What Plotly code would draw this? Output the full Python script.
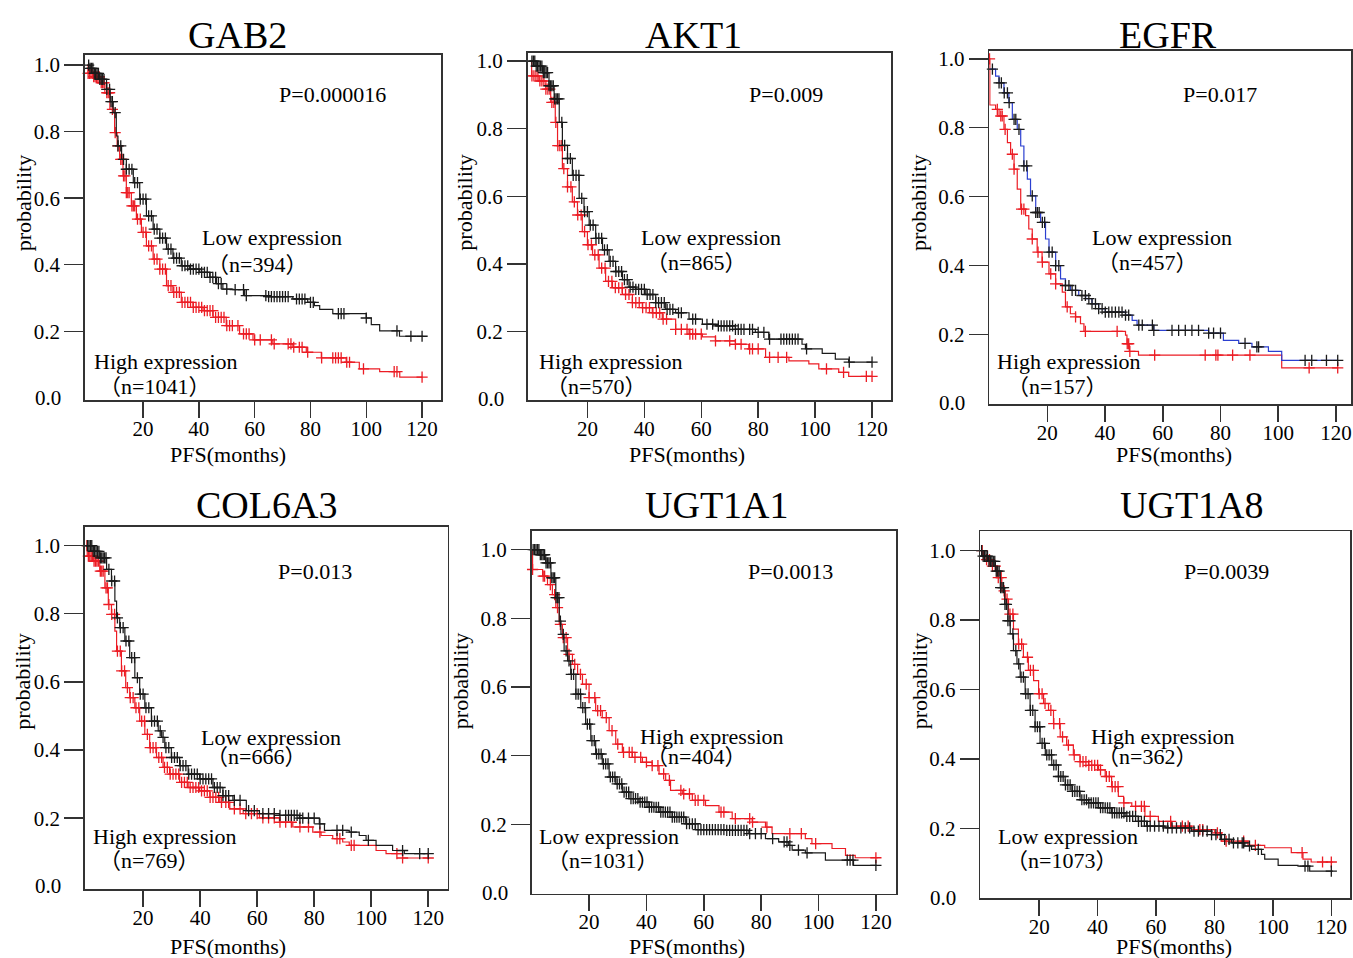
import numpy as np
import plotly.graph_objects as go

W, H = 1353, 958
FONT = "Liberation Serif, Times New Roman, Noto Sans CJK SC, serif"
BLACK = "#1a1a1a"
RED = "#ec1c24"
BLUE = "#2b3fd0"

genes = ["GAB2", "AKT1", "EGFR", "COL6A3", "UGT1A1", "UGT1A8"]
p_values = ["P=0.000016", "P=0.009", "P=0.017", "P=0.013", "P=0.0013", "P=0.0039"]
n_low = [394, 865, 457, 666, 1031, 1073]
n_high = [1041, 570, 157, 769, 404, 362]
x_ticks = [20, 40, 60, 80, 100, 120]
y_ticks = [0.2, 0.4, 0.6, 0.8, 1.0]
y_ticktext = ["0.2", "0.4", "0.6", "0.8", "1.0"]

# ---------------- GAB2 ----------------
gab2_low_t = [0, 1, 2.5, 4.5, 6.9, 8.2, 9.3, 10.4, 11, 12.3, 14, 16.5, 18.8, 21.2, 23.6, 26, 28.4, 30.7, 33.7, 36.7, 40.3, 43.9, 46.3, 48.6, 52.2, 56.4, 64.2, 73.7, 79, 81.4, 83.3, 88, 100, 101.8, 104.8, 111.9, 120.4]
gab2_low_s = [1.0, 0.99, 0.975, 0.957, 0.927, 0.89, 0.857, 0.787, 0.757, 0.717, 0.687, 0.647, 0.597, 0.547, 0.507, 0.48, 0.447, 0.42, 0.397, 0.387, 0.377, 0.362, 0.343, 0.327, 0.325, 0.307, 0.304, 0.297, 0.287, 0.277, 0.266, 0.253, 0.24, 0.22, 0.201, 0.185, 0.185]
gab2_low_c = [0.5, 1, 1.5, 2, 2.5, 3, 3.5, 4, 4.5, 5, 5.5, 6, 7, 8, 8.5, 9, 10, 11, 12, 13, 14, 15, 16, 17, 18, 19, 20, 21, 22, 23, 24, 25, 26, 27, 28, 29, 30, 31, 32, 33, 34, 35, 36, 37, 38, 39, 40, 41, 42, 43, 44, 45, 46, 47, 48, 50, 53, 56, 57, 64, 65, 66, 67, 68, 69, 70, 71, 72, 75, 76, 77, 78, 80, 81, 90, 91, 92, 100, 111, 116, 120]
gab2_high_t = [0, 0.3, 2.1, 4.5, 6.3, 8.1, 9.8, 10.7, 11.6, 12.8, 14, 15.8, 17.6, 19.4, 21.2, 23.6, 26, 28.4, 30.7, 33.7, 37.9, 41.5, 45.1, 49.8, 54.6, 59.4, 66.5, 73.7, 78.5, 83.9, 92.8, 97.5, 104.8, 112, 120.1]
gab2_high_s = [1.0, 0.975, 0.965, 0.947, 0.917, 0.867, 0.797, 0.757, 0.717, 0.667, 0.617, 0.577, 0.537, 0.497, 0.457, 0.417, 0.387, 0.337, 0.317, 0.287, 0.272, 0.262, 0.242, 0.217, 0.192, 0.174, 0.162, 0.152, 0.137, 0.12, 0.107, 0.087, 0.079, 0.062, 0.062]
gab2_high_c = [0.3, 0.8, 1.3, 1.8, 2.3, 2.8, 3.3, 3.8, 4.3, 5, 5.5, 6, 7, 7.5, 8, 9, 10, 11, 12, 12.5, 13, 13.5, 14, 14.5, 15, 16, 16.5, 17, 18, 19, 20, 21, 22, 23, 24, 25, 26, 27, 28, 29, 30, 31, 32, 33, 34, 35, 36, 37, 38, 39, 40, 41, 42, 43, 44, 45, 46, 47, 48, 49, 50, 51, 52, 54, 56, 57, 58, 60, 62, 66, 67, 72, 73, 74, 76, 77, 79, 84, 88, 89, 90, 91, 93, 94, 99, 110, 111, 120]

# ---------------- AKT1 ----------------
akt1_low_t = [0, 1.9, 4.2, 6.5, 8.3, 10.1, 11.2, 13, 14.7, 17.1, 18.8, 20.6, 22.9, 25.3, 27.6, 29.9, 32.3, 34.6, 37, 40.5, 44, 47.5, 51, 55.7, 60.4, 65, 72, 79, 83.7, 95.4, 96.6, 102.5, 107.1, 111.8, 120]
akt1_low_s = [1.0, 0.985, 0.966, 0.927, 0.888, 0.819, 0.751, 0.712, 0.662, 0.594, 0.555, 0.515, 0.476, 0.442, 0.408, 0.378, 0.354, 0.332, 0.325, 0.31, 0.286, 0.266, 0.256, 0.237, 0.222, 0.217, 0.207, 0.198, 0.178, 0.163, 0.149, 0.136, 0.119, 0.11, 0.11]
akt1_low_c = [0.5, 1, 1.5, 2, 2.5, 3, 3.5, 4, 4.5, 5, 5.5, 6, 6.5, 7, 7.5, 8, 8.5, 9, 9.5, 10, 11, 12, 13, 14, 15, 16, 17, 18, 19, 20, 21, 22, 23, 24, 25, 26, 27, 28, 29, 30, 31, 32, 33, 34, 35, 36, 37, 38, 39, 40, 41, 42, 43, 44, 45, 46, 47, 48, 49, 50, 52, 53, 57, 58, 62, 64, 66, 67, 68, 69, 70, 71, 72, 73, 74, 75, 77, 78, 80, 82, 84, 88, 89, 90, 91, 92, 93, 94, 97, 112, 120]
akt1_high_t = [0, 0.4, 3, 5.4, 7.1, 8.7, 9.5, 11.2, 13, 14.7, 16.5, 18.2, 20, 21.8, 24.1, 26.4, 28.8, 32.3, 35.8, 39.3, 42.8, 46.3, 51, 55.7, 60.4, 65, 72, 76.7, 82.6, 90.8, 97.8, 101.3, 108.3, 111.8, 120]
akt1_high_s = [1.0, 0.956, 0.941, 0.917, 0.878, 0.819, 0.75, 0.682, 0.628, 0.584, 0.545, 0.496, 0.457, 0.427, 0.388, 0.349, 0.33, 0.31, 0.286, 0.271, 0.256, 0.237, 0.207, 0.193, 0.185, 0.173, 0.163, 0.149, 0.124, 0.114, 0.105, 0.09, 0.08, 0.068, 0.068]
akt1_high_c = [0.5, 1.2, 1.9, 2.6, 3.3, 4, 4.7, 5.4, 6.1, 6.8, 7.5, 8.2, 8.9, 9.6, 10.3, 11, 11.7, 13, 14.2, 15.4, 16.6, 17.8, 19, 20.2, 21.4, 22.6, 23.8, 25, 26.2, 27.4, 28.6, 29.8, 31, 32.2, 33.4, 34.6, 35.8, 37, 38.2, 39.4, 40.6, 41.8, 43, 44.2, 45.4, 46.6, 47.8, 51, 53, 55, 56, 57, 58, 60, 65, 70, 72, 74, 77, 78, 80, 84, 87, 90, 104, 110, 118, 120]

# ---------------- EGFR ----------------
egfr_low_t = [0, 2.1, 3.3, 5, 6.7, 7.9, 9.6, 10.8, 11.9, 13.1, 14.2, 16, 17.7, 19.4, 20.6, 22.9, 24.6, 26.3, 28, 30.9, 33.3, 35.5, 37.8, 40.1, 47.1, 49.4, 51.1, 56.9, 75.9, 81, 86.3, 90.9, 96.6, 101.2, 120.6]
egfr_low_s = [0.97, 0.95, 0.93, 0.901, 0.873, 0.824, 0.795, 0.747, 0.689, 0.651, 0.602, 0.554, 0.525, 0.477, 0.439, 0.4, 0.361, 0.342, 0.328, 0.313, 0.304, 0.289, 0.275, 0.265, 0.256, 0.241, 0.227, 0.212, 0.204, 0.183, 0.174, 0.164, 0.151, 0.125, 0.125]
egfr_low_c = [1.0, 3.3, 4.1, 5.1, 6.2, 6.8, 8.5, 9.1, 10.2, 11.9, 12.9, 14.8, 16, 16.6, 17.2, 18.3, 19.1, 20.6, 21.7, 22.9, 24, 26.3, 27.5, 28.6, 29.8, 32, 33.2, 34.4, 35.5, 36.7, 37.8, 39, 40.1, 41.3, 42.4, 43.6, 44.8, 45.9, 47.1, 48.2, 51.7, 52.9, 56.4, 56.9, 63.2, 65.5, 67.8, 70.1, 72.4, 75.9, 77.6, 80, 88.5, 92.6, 93.2, 109.3, 111.6, 116.7, 120.6]
egfr_high_t = [0, 0.1, 2.1, 3.3, 5, 6.2, 7.3, 8.5, 9.6, 10.8, 12.5, 13.6, 14.8, 16.5, 18.2, 20.6, 22.9, 25.2, 26.3, 28, 29.8, 31.5, 32.7, 47.1, 47.6, 48.4, 51.6, 101.2, 120.6]
egfr_high_s = [1.0, 0.866, 0.853, 0.834, 0.795, 0.757, 0.723, 0.68, 0.622, 0.564, 0.545, 0.506, 0.477, 0.439, 0.41, 0.376, 0.347, 0.323, 0.28, 0.26, 0.251, 0.231, 0.209, 0.198, 0.173, 0.151, 0.14, 0.103, 0.103]
egfr_high_c = [0, 2.7, 3.9, 4.4, 5.4, 7.9, 8.5, 11.1, 11.9, 14.8, 16.8, 18.3, 21.2, 22.9, 26.9, 29.8, 33.2, 44.2, 47.7, 48.2, 48.6, 57.2, 74.7, 78.4, 79.1, 84.2, 90.2, 110.7, 120.6]

# ---------------- COL6A3 ----------------
col6a3_low_t = [0, 2.5, 4.8, 7.2, 8.9, 10.1, 10.7, 11.8, 13.6, 15.3, 17.1, 18.8, 20.6, 22.9, 25.3, 26.5, 27.6, 29.9, 32.8, 35.8, 39.8, 44.5, 48, 51.5, 56.2, 60.8, 67.8, 74.8, 81.8, 83.6, 92.3, 95.8, 98.2, 101.7, 107.5, 111.6, 120.3]
col6a3_low_s = [1.0, 0.983, 0.964, 0.93, 0.896, 0.837, 0.788, 0.759, 0.72, 0.671, 0.612, 0.564, 0.524, 0.485, 0.456, 0.437, 0.407, 0.378, 0.354, 0.329, 0.315, 0.29, 0.266, 0.252, 0.222, 0.213, 0.208, 0.2, 0.183, 0.164, 0.159, 0.149, 0.135, 0.12, 0.105, 0.096, 0.096]
col6a3_low_c = [0.5, 1, 1.5, 2, 2.5, 3, 3.5, 4, 4.5, 5, 5.5, 6, 6.5, 7, 8, 9, 10, 11, 12, 13, 14, 15, 16, 17, 18, 19, 20, 21, 22, 23, 24, 25, 26, 27, 28, 29, 30, 31, 32, 33, 34, 35, 36, 37, 38, 39, 40, 41, 42, 43, 44, 45, 46, 47, 48, 49, 50, 52, 54, 57, 59, 62, 64, 66, 68, 70, 71, 72, 73, 74, 75, 76, 78, 80, 82, 88, 90, 93, 99, 111, 117, 120]
col6a3_high_t = [0, 0.4, 2.5, 4.8, 6.6, 7.8, 8.9, 10.1, 10.7, 12.4, 13.9, 15.3, 17.1, 18.8, 20.6, 22.3, 24.7, 27, 29.3, 32.8, 35.8, 39.8, 43.4, 46.9, 50.4, 55.1, 60.8, 67.8, 72.5, 79.5, 82.4, 86.5, 90, 92.3, 101.7, 105.2, 111, 120.3]
col6a3_high_s = [1.0, 0.969, 0.954, 0.925, 0.876, 0.827, 0.798, 0.749, 0.69, 0.632, 0.583, 0.554, 0.524, 0.485, 0.446, 0.407, 0.378, 0.349, 0.329, 0.305, 0.29, 0.28, 0.261, 0.246, 0.227, 0.213, 0.201, 0.188, 0.174, 0.159, 0.149, 0.14, 0.13, 0.12, 0.105, 0.096, 0.083, 0.083]
col6a3_high_c = [0.3, 0.8, 1.3, 1.8, 2.3, 2.8, 3.3, 3.8, 4.3, 5, 5.5, 6, 7, 7.5, 8, 9, 10, 11, 12, 12.5, 13.5, 14.5, 15.5, 16.5, 17.5, 18.5, 19.5, 20.5, 21.5, 22.5, 23.5, 24.5, 25.5, 26.5, 27.5, 28.5, 29.5, 30.5, 31.5, 32.5, 33.5, 34.5, 35.5, 36.5, 37.5, 38.5, 39.5, 40.5, 41.5, 42.5, 43.5, 44.5, 45.5, 46.5, 47.5, 49, 50, 52, 54, 56, 58, 60, 62, 64, 66, 68, 70, 72, 75, 78, 82, 88, 89, 93, 94, 109, 111, 120]

# ---------------- UGT1A1 ----------------
ugt1a1_low_t = [0, 2.6, 4.9, 6.7, 8.4, 9.6, 10.2, 11.3, 12.5, 13.6, 15.4, 17.1, 18.8, 20.6, 22.3, 24.6, 27, 29.3, 31.6, 33.9, 37.4, 40.9, 44.4, 49, 53.7, 57.1, 67.6, 75.7, 81.5, 86.1, 89.6, 90.8, 95.4, 102.4, 112.2, 120.4]
ugt1a1_low_s = [1.0, 0.985, 0.961, 0.918, 0.86, 0.792, 0.753, 0.705, 0.676, 0.637, 0.579, 0.54, 0.492, 0.444, 0.405, 0.376, 0.338, 0.318, 0.294, 0.275, 0.265, 0.25, 0.236, 0.221, 0.202, 0.185, 0.183, 0.173, 0.159, 0.149, 0.139, 0.125, 0.117, 0.096, 0.081, 0.081]
ugt1a1_low_c = [0.5, 1, 1.5, 2, 2.5, 3, 3.5, 4, 4.5, 5, 5.5, 6, 6.5, 7, 7.5, 8, 8.5, 9, 9.5, 10, 11, 12, 13, 13.8, 14.6, 15.4, 16.2, 17, 17.8, 18.6, 19.4, 20.2, 21, 21.8, 22.6, 23.4, 24.2, 25, 25.8, 26.6, 27.4, 28.2, 29, 29.8, 30.6, 31.4, 32.2, 33, 33.8, 34.6, 35.4, 36.2, 37, 37.8, 38.6, 39.4, 40.2, 41, 41.8, 42.6, 43.4, 44.2, 45, 45.8, 46.6, 47.4, 48.2, 49, 49.8, 50.6, 51.4, 52.2, 53, 54, 55, 56, 57, 58, 59, 60, 61, 62, 63, 64, 65, 66, 67, 68, 69, 70, 71, 72, 73, 74, 75, 76, 78, 80, 84, 88, 89, 90, 93, 96, 110, 111, 112, 120]
ugt1a1_high_t = [0, 0.3, 3.8, 5.5, 7.2, 8.4, 9.6, 10.7, 12.5, 14.2, 16, 17.7, 20, 22.3, 24.6, 27, 29.3, 31.6, 35.1, 38.6, 42, 44.4, 46.7, 48.4, 52.5, 56, 60.6, 65.3, 69.9, 76.9, 81.5, 83.8, 95.4, 97.7, 104.7, 109.4, 112.8, 120.7]
ugt1a1_high_s = [1.0, 0.942, 0.923, 0.898, 0.869, 0.831, 0.782, 0.744, 0.695, 0.666, 0.637, 0.608, 0.569, 0.531, 0.511, 0.473, 0.434, 0.41, 0.395, 0.381, 0.371, 0.347, 0.328, 0.299, 0.289, 0.27, 0.255, 0.236, 0.217, 0.207, 0.192, 0.173, 0.159, 0.144, 0.13, 0.11, 0.103, 0.103]
ugt1a1_high_c = [0.3, 4, 4.5, 6.5, 8, 9, 10, 11, 12, 13, 15, 17, 19, 20, 22, 23, 24, 26, 28, 30, 32, 34, 35, 36, 38, 40, 42, 44, 46, 48, 52, 53, 55, 57, 58, 60, 66, 67, 71, 76, 77, 82, 90, 94, 99, 120]

# ---------------- UGT1A8 ----------------
ugt1a8_low_t = [0, 0.4, 2.7, 5, 6.7, 8.2, 9.3, 10.1, 11.2, 12.4, 13.5, 15.2, 16.9, 18.6, 20.3, 22.1, 24.3, 26.6, 28.9, 31.2, 34, 36.9, 40.3, 44.8, 49.4, 53.9, 56.8, 63.1, 72.1, 79, 82.4, 85.9, 90.4, 92.7, 96.1, 97.2, 101.8, 108.6, 112.6, 120.5]
ugt1a8_low_s = [1.0, 0.984, 0.969, 0.941, 0.893, 0.845, 0.798, 0.76, 0.712, 0.674, 0.636, 0.588, 0.54, 0.493, 0.445, 0.412, 0.383, 0.35, 0.326, 0.307, 0.283, 0.274, 0.26, 0.245, 0.235, 0.221, 0.207, 0.202, 0.193, 0.183, 0.169, 0.159, 0.15, 0.14, 0.126, 0.112, 0.094, 0.092, 0.078, 0.078]
ugt1a8_low_c = [0.3, 0.8, 1.3, 1.8, 2.3, 2.8, 3.3, 3.8, 4.3, 4.8, 5.3, 5.8, 6.3, 6.8, 7.3, 7.8, 8.3, 8.8, 9.3, 10, 11, 12, 13, 13.8, 14.6, 15.4, 16.2, 17, 17.8, 18.6, 19.4, 20.2, 21, 21.8, 22.6, 23.4, 24.2, 25, 25.8, 26.6, 27.4, 28.2, 29, 29.8, 30.6, 31.4, 32.2, 33, 33.8, 34.6, 35.4, 36.2, 37, 37.8, 38.6, 39.4, 40.2, 41, 41.8, 42.6, 43.4, 44.2, 45, 45.8, 46.6, 47.4, 48.2, 49, 50, 51, 52, 53, 54, 55, 56, 57, 58, 59.5, 61, 62.5, 64, 65.5, 67, 68.5, 70, 71.5, 73, 74.5, 76, 77.5, 79, 80.5, 82, 83.5, 85, 86.5, 88, 89.5, 90, 92, 95, 111, 112, 120]
ugt1a8_high_t = [0, 1, 3.3, 5.5, 7.2, 8.4, 9.5, 11.2, 12.9, 14.6, 16.3, 18.1, 19.8, 21.5, 23.2, 24.9, 27.2, 29.4, 31.7, 34, 36.9, 40.3, 42.6, 44.8, 47.1, 48.9, 51.7, 56.2, 60.8, 65.3, 72.1, 80.1, 82.4, 91.5, 97.2, 106.3, 110.3, 113.1, 120.5]
ugt1a8_high_s = [1.0, 0.974, 0.955, 0.922, 0.884, 0.86, 0.817, 0.774, 0.731, 0.693, 0.655, 0.626, 0.588, 0.56, 0.54, 0.502, 0.464, 0.44, 0.412, 0.393, 0.382, 0.369, 0.35, 0.321, 0.293, 0.274, 0.264, 0.235, 0.221, 0.207, 0.197, 0.188, 0.164, 0.152, 0.145, 0.131, 0.112, 0.104, 0.104]
ugt1a8_high_c = [0.5, 2, 3, 4, 5, 6, 7, 8, 9, 10, 11, 13, 14, 16, 17, 18, 20, 21, 22, 24, 25, 27, 28, 30, 32, 34, 35, 36, 37, 38, 39, 40, 41, 43, 44, 45, 46, 47, 49, 53, 55, 56, 58, 65, 69, 71, 75, 76, 81, 84, 90, 94, 110, 117, 120]

# ---------------- layout description (pixel boxes) ----------------
panels = [
    dict(box=(85, 51.7, 441.7, 398.3), xr=(-0.86, 126.8), yr=(-0.0067, 1.0318),
         low=(gab2_low_t, gab2_low_s, gab2_low_c), high=(gab2_high_t, gab2_high_s, gab2_high_c),
         low_line=BLACK, top_label="low",
         title=(238, 32), p=(333, 92), lab1=(272, 235), n1=(257, 262), lab2=(166, 360), n2=(155, 385),
         ylab=(23, 200), xlab=(228, 453)),
    dict(box=(528.3, 50, 892.7, 398.3), xr=(-1.05, 126.8), yr=(-0.002, 1.0243),
         low=(akt1_low_t, akt1_low_s, akt1_low_c), high=(akt1_high_t, akt1_high_s, akt1_high_c),
         low_line=BLACK, top_label="low",
         title=(695, 32), p=(786.7, 92), lab1=(711.7, 235), n1=(696.7, 260.7), lab2=(611.7, 360), n2=(596.7, 385),
         ylab=(465, 200), xlab=(688, 453)),
    dict(box=(990.7, 47.7, 1353, 402.3), xr=(-0.1, 125.2), yr=(-0.002, 1.024),
         low=(egfr_low_t, egfr_low_s, egfr_low_c), high=(egfr_high_t, egfr_high_s, egfr_high_c),
         low_line=BLUE, top_label="low",
         title=(1170, 32), p=(1221.7, 92), lab1=(1163.3, 235), n1=(1148.3, 260.7), lab2=(1070.7, 360), n2=(1058.3, 385),
         ylab=(920, 200), xlab=(1176, 453)),
    dict(box=(85, 525.7, 448.3, 889), xr=(-0.42, 126.8), yr=(-0.0086, 1.0544),
         low=(col6a3_low_t, col6a3_low_s, col6a3_low_c), high=(col6a3_high_t, col6a3_high_s, col6a3_high_c),
         low_line=BLACK, top_label="low",
         title=(266.7, 503.3), p=(315, 570), lab1=(271.7, 736.7), n1=(256.7, 756), lab2=(165.7, 836), n2=(149, 860),
         ylab=(23, 680), xlab=(228, 946.7)),
    dict(box=(532.3, 529.3, 897.3, 893.3), xr=(-0.07, 127.0), yr=(-0.001, 1.0551),
         low=(ugt1a1_low_t, ugt1a1_low_s, ugt1a1_low_c), high=(ugt1a1_high_t, ugt1a1_high_s, ugt1a1_high_c),
         low_line=BLACK, top_label="high",
         title=(718.3, 503.3), p=(791.7, 570), lab1=(713.3, 736), n1=(696.7, 756), lab2=(610, 836), n2=(603.3, 860),
         ylab=(462, 680), xlab=(688.3, 946.7)),
    dict(box=(981.7, 530, 1352.3, 898.3), xr=(-0.17, 126.5), yr=(-0.001, 1.0552),
         low=(ugt1a8_low_t, ugt1a8_low_s, ugt1a8_low_c), high=(ugt1a8_high_t, ugt1a8_high_s, ugt1a8_high_c),
         low_line=BLACK, top_label="high",
         title=(1193.3, 503.3), p=(1228.3, 570), lab1=(1165, 736), n1=(1148.3, 756), lab2=(1070, 836), n2=(1063.3, 860),
         ylab=(921.7, 680), xlab=(1176, 946.7)),
]


def px(x, y):
    return x / W, 1 - y / H


def step_at(t, s, c):
    t = np.asarray(t, float)
    s = np.asarray(s, float)
    idx = np.searchsorted(t, np.asarray(c, float), side="right") - 1
    idx = np.clip(idx, 0, len(s) - 1)
    return s[idx]


fig = go.Figure()
annotations = []
axis_line = "#333333"

for i, pnl in enumerate(panels):
    k = "" if i == 0 else str(i + 1)
    xa, ya = "x" + k, "y" + k
    l, t_, r, b = pnl["box"]

    for grp, line_col, mark_col in [("high", RED, RED), ("low", pnl["low_line"], BLACK)]:
        tt, ss, cc = pnl[grp]
        fig.add_trace(go.Scatter(x=tt, y=ss, mode="lines", line=dict(color=line_col, width=1.2, shape="hv"),
                                 xaxis=xa, yaxis=ya, showlegend=False, hoverinfo="skip"))
        fig.add_trace(go.Scatter(x=cc, y=step_at(tt, ss, cc), mode="markers",
                                 marker=dict(symbol="cross-thin", size=8, color=mark_col,
                                             line=dict(color=mark_col, width=1.3)),
                                 xaxis=xa, yaxis=ya, showlegend=False, hoverinfo="skip", cliponaxis=False))

    xdom = [l / W, min(r / W, 1.0)]
    ydom = [1 - b / H, 1 - t_ / H]
    common = dict(showline=True, mirror=True, linecolor=axis_line, linewidth=1.6, showgrid=False, zeroline=False,
                  ticks="outside", tickcolor=axis_line, tickwidth=1.5,
                  tickfont=dict(family=FONT, size=21, color="black"))
    fig.layout["xaxis" + k] = dict(domain=xdom, range=list(pnl["xr"]), tickvals=x_ticks, ticklen=16,
                                   ticklabelstandoff=-7, anchor=ya, **common)
    fig.layout["yaxis" + k] = dict(domain=ydom, range=list(pnl["yr"]), tickvals=y_ticks, ticktext=y_ticktext,
                                   ticklen=19, anchor=xa, **common)

    annotations.append(dict(text="0.0", xref=xa + " domain", yref=ya, x=0, y=0, xanchor="right", yanchor="middle",
                            xshift=-22, showarrow=False, font=dict(family=FONT, size=21, color="black")))

    def add_text(txt, pos, size=22, angle=0):
        xp, yp = px(*pos)
        annotations.append(dict(text=txt, xref="paper", yref="paper", x=xp, y=yp, xanchor="center",
                                yanchor="middle", showarrow=False, textangle=angle,
                                font=dict(family=FONT, size=size, color="black")))

    add_text(genes[i], pnl["title"], size=38)
    add_text(p_values[i], pnl["p"])
    if pnl["top_label"] == "low":
        add_text("Low expression", pnl["lab1"])
        add_text("（n=%d）" % n_low[i], pnl["n1"])
        add_text("High expression", pnl["lab2"])
        add_text("（n=%d）" % n_high[i], pnl["n2"])
    else:
        add_text("High expression", pnl["lab1"])
        add_text("（n=%d）" % n_high[i], pnl["n1"])
        add_text("Low expression", pnl["lab2"])
        add_text("（n=%d）" % n_low[i], pnl["n2"])
    add_text("probability", pnl["ylab"], angle=-90)
    add_text("PFS(months)", pnl["xlab"])

fig.update_layout(width=W, height=H, margin=dict(l=0, r=0, t=0, b=0), paper_bgcolor="white",
                  plot_bgcolor="white", annotations=annotations, showlegend=False)

fig.write_html("out.html", config={"displayModeBar": False, "staticPlot": True},
               post_script="document.body.style.margin='0';document.body.style.padding='0';"
                           "document.body.style.overflow='hidden';")
